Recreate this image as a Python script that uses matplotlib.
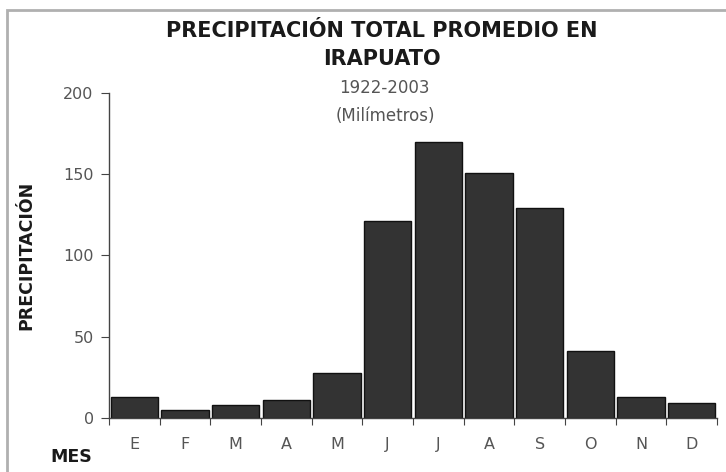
import matplotlib
matplotlib.use("Agg")
import matplotlib.pyplot as plt
from matplotlib.patches import Rectangle

months = ["E", "F", "M", "A", "M", "J", "J", "A", "S", "O", "N", "D"]
precip = [13, 5, 8, 11, 28, 121, 170, 151, 129, 41, 13, 9]
yticks = [0, 50, 100, 150, 200]

plt.rcParams['font.family'] = ['DejaVu Sans']

W, H = 726, 472
fig = plt.figure(figsize=(W / 100, H / 100), dpi=100)
fig.patch.set_facecolor("white")

# outer frame
fig.patches.append(Rectangle((7 / W, -0.05), 1.1, 1 - 10 / H + 0.05, transform=fig.transFigure,
                             fill=False, edgecolor="#b0b0b0", linewidth=2.0))

ax = fig.add_axes([109 / W, 1 - 418 / H, (717 - 109) / W, (418 - 93) / H])
x = list(range(len(months)))
ax.bar(x, precip, width=0.94, color="#333333", edgecolor="#111111", linewidth=1.0)
ax.set_xlim(-0.5, len(months) - 0.5)
ax.set_ylim(0, 200)
ax.set_yticks(yticks)
ax.set_yticklabels([str(v) for v in yticks], fontsize=11.5, color="#555555")
ax.set_xticks([i - 0.5 for i in range(len(months) + 1)])
ax.set_xticklabels([])
ax.set_xticks(x, minor=True)
ax.set_xticklabels(months, minor=True, fontsize=11.5, color="#555555")
ax.tick_params(axis="x", which="minor", length=0, pad=14)
ax.tick_params(axis="x", which="major", length=5, direction="out", color="#444444")
ax.tick_params(axis="y", length=6, direction="out", color="#444444", pad=5)
for s in ["top", "right"]:
    ax.spines[s].set_visible(False)
for s in ["left", "bottom"]:
    ax.spines[s].set_color("#444444")
    ax.spines[s].set_linewidth(1.0)

fig.text(382 / W, 1 - 31 / H, "PRECIPITACIÓN TOTAL PROMEDIO EN", ha="center", va="center",
         fontsize=15, fontweight="bold", color="#1a1a1a")
fig.text(382 / W, 1 - 59 / H, "IRAPUATO", ha="center", va="center",
         fontsize=15, fontweight="bold", color="#1a1a1a")
fig.text(384 / W, 1 - 88 / H, "1922-2003", ha="center", va="center", fontsize=12, color="#555555")
fig.text(385 / W, 1 - 116 / H, "(Milímetros)", ha="center", va="center", fontsize=12, color="#555555")
fig.text(26 / W, 1 - 255 / H, "PRECIPITACIÓN", ha="center", va="center", rotation=90,
         fontsize=12.5, fontweight="bold", color="#1a1a1a")
fig.text(71 / W, 1 - 457 / H, "MES", ha="center", va="center",
         fontsize=12.5, fontweight="bold", color="#1a1a1a")

fig.savefig("out.png", dpi=100, facecolor="white")
